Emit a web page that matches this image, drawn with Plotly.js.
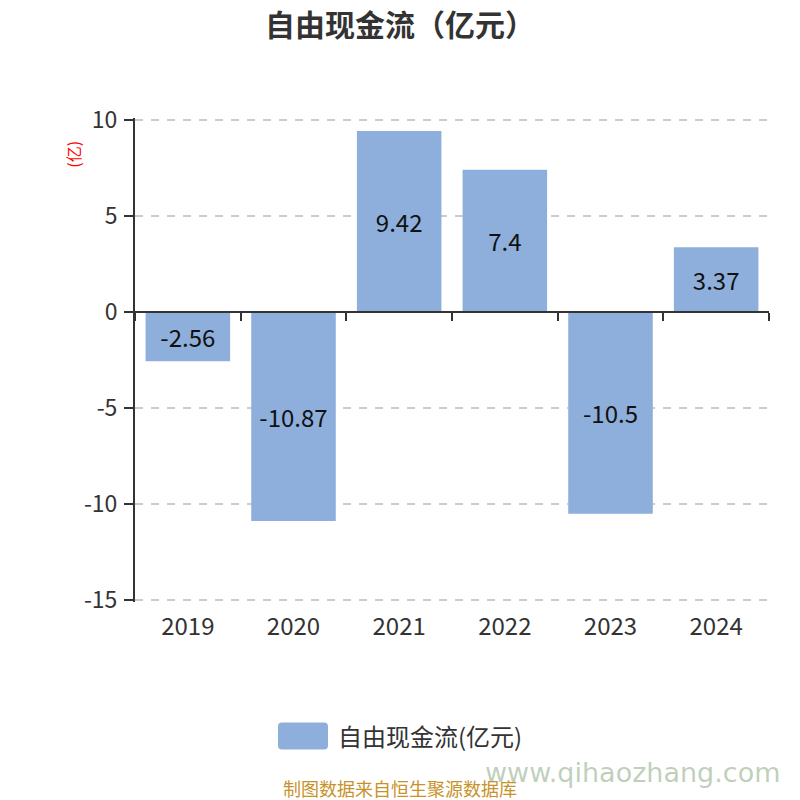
<!DOCTYPE html>
<html>
<head>
<meta charset="utf-8">
<script src="https://cdn.plot.ly/plotly-3.0.1.min.js"></script>
<style>html,body{margin:0;padding:0;background:#fff;}#chart{width:800px;height:800px;}</style>
</head>
<body>
<div id="chart"></div>
<script>
const years = ['2019', '2020', '2021', '2022', '2023', '2024'];
const freeCashFlow = [-2.56, -10.87, 9.42, 7.4, -10.5, 3.37];
const labels = ['-2.56', '-10.87', '9.42', '7.4', '-10.5', '3.37'];
const yTickValues = [-15, -10, -5, 0, 5, 10];
const yTickLabels = ['-15', '-10', '-5', '0', '5', '10'];
const seriesName = '自由现金流(亿元)';
const chartTitle = '自由现金流（亿元）';
const yUnit = '(亿)';
const sourceNote = '制图数据来自恒生聚源数据库';
const watermark = 'www.qihaozhang.com';

const font = '"Noto Sans CJK SC", "Noto Sans", sans-serif';

// plot area geometry (pixels)
const yMin = -15.09, yMax = 10.09;
const pxPerUnit = 19.2;
const plotTop = 312 - yMax * pxPerUnit;
const plotBottom = 312 - yMin * pxPerUnit;
const plotLeft = 135, plotRight = 769;
const px = x => (x - plotLeft) / (plotRight - plotLeft);
const py = y => (plotBottom - y) / (plotBottom - plotTop);

const traces = [
  {
    type: 'bar',
    x: years,
    y: freeCashFlow,
    name: seriesName,
    text: labels,
    texttemplate: '%{text}',
    textposition: 'inside',
    insidetextanchor: 'middle',
    textangle: 0,
    constraintext: 'none',
    textfont: {family: font, size: 24, color: '#111'},
    marker: {color: '#8eaedb'},
    hoverinfo: 'x+y',
    showlegend: false
  },
  {
    type: 'scatter',
    mode: 'markers',
    x: years,
    y: freeCashFlow,
    xaxis: 'x2',
    marker: {opacity: 0},
    hoverinfo: 'skip',
    showlegend: false
  }
];

const sw = {l: 278, r: 328, t: 722, b: 749, rad: 4};
const swatchPath =
  'M ' + px(sw.l + sw.rad) + ' ' + py(sw.t) +
  ' L ' + px(sw.r - sw.rad) + ' ' + py(sw.t) +
  ' Q ' + px(sw.r) + ' ' + py(sw.t) + ' ' + px(sw.r) + ' ' + py(sw.t + sw.rad) +
  ' L ' + px(sw.r) + ' ' + py(sw.b - sw.rad) +
  ' Q ' + px(sw.r) + ' ' + py(sw.b) + ' ' + px(sw.r - sw.rad) + ' ' + py(sw.b) +
  ' L ' + px(sw.l + sw.rad) + ' ' + py(sw.b) +
  ' Q ' + px(sw.l) + ' ' + py(sw.b) + ' ' + px(sw.l) + ' ' + py(sw.b - sw.rad) +
  ' L ' + px(sw.l) + ' ' + py(sw.t + sw.rad) +
  ' Q ' + px(sw.l) + ' ' + py(sw.t) + ' ' + px(sw.l + sw.rad) + ' ' + py(sw.t) + ' Z';

const layout = {
  width: 800,
  height: 800,
  margin: {l: plotLeft, r: 800 - plotRight, t: plotTop, b: 800 - plotBottom, pad: 0},
  paper_bgcolor: '#fff',
  plot_bgcolor: '#fff',
  font: {family: font, color: '#333'},
  title: {
    text: '<b>' + chartTitle + '</b>',
    x: 0.5, xanchor: 'center',
    y: 0.968, yanchor: 'middle',
    font: {family: font, size: 30, color: '#333'}
  },
  bargap: 0.2,
  xaxis: {
    type: 'category',
    range: [-0.5, 5.5],
    showline: false,
    ticks: '',
    showgrid: false,
    zeroline: false,
    tickfont: {family: font, size: 24, color: '#333'},
    ticklabelstandoff: 8
  },
  xaxis2: {
    type: 'category',
    range: [-0.5, 5.5],
    overlaying: 'x',
    anchor: 'free',
    position: (0 - yMin) / (yMax - yMin),
    side: 'bottom',
    showline: true,
    linecolor: '#333',
    linewidth: 2,
    ticks: 'outside',
    tickson: 'boundaries',
    ticklen: 8,
    tickwidth: 2,
    tickcolor: '#333',
    showticklabels: false,
    showgrid: false,
    zeroline: false
  },
  yaxis: {
    range: [yMin, yMax],
    tickmode: 'array',
    tickvals: yTickValues,
    ticktext: yTickLabels,
    showline: true,
    linecolor: '#333',
    linewidth: 2,
    ticks: 'outside',
    ticklen: 9,
    tickwidth: 2,
    tickcolor: '#333',
    tickfont: {family: font, size: 23, color: '#333'},
    ticklabelstandoff: 2,
    showgrid: true,
    gridcolor: '#cccccc',
    gridwidth: 2,
    griddash: '8px,8px',
    zeroline: false
  },
  shapes: [
    {type: 'path', xref: 'paper', yref: 'paper', path: swatchPath, fillcolor: '#8eaedb', line: {width: 0}}
  ],
  annotations: [
    {
      text: yUnit, xref: 'paper', yref: 'paper',
      x: px(73), y: py(155),
      xanchor: 'center', yanchor: 'middle',
      textangle: -90, showarrow: false,
      font: {family: font, size: 16, color: '#ff0000'}
    },
    {
      text: seriesName, xref: 'paper', yref: 'paper',
      x: px(336), y: py(735),
      xanchor: 'left', yanchor: 'middle', showarrow: false,
      font: {family: font, size: 24, color: '#333'}
    },
    {
      text: watermark, xref: 'paper', yref: 'paper',
      x: px(633), y: py(772),
      xanchor: 'center', yanchor: 'middle', showarrow: false,
      font: {family: '"DejaVu Sans", sans-serif', size: 27, color: 'rgba(130,160,120,0.5)'}
    },
    {
      text: sourceNote, xref: 'paper', yref: 'paper',
      x: px(400), y: py(788),
      xanchor: 'center', yanchor: 'middle', showarrow: false,
      font: {family: font, size: 18, color: '#c8922a'}
    }
  ]
};

Plotly.newPlot('chart', traces, layout, {displayModeBar: false, staticPlot: true});
</script>
</body>
</html>
